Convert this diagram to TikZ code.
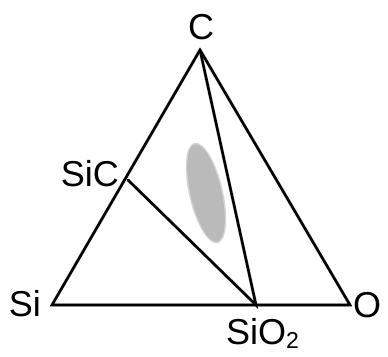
\documentclass[tikz,border=0pt]{standalone}
\usepackage{fontspec}
\setmainfont{Liberation Sans}
\begin{document}
\begin{tikzpicture}[x=1pt,y=-1pt,
  edge/.style={line width=2.6pt,line join=miter,line cap=round},
  shadowedge/.style={line width=3.4pt,draw=black!18,line join=round},
  lbl/.style={font=\fontsize{36}{36}\selectfont,inner sep=0pt}]
\useasboundingbox (0,0) rectangle (388,356);
\coordinate (C) at (200,50);
\coordinate (Si) at (52,305);
\coordinate (O) at (350,305);
\coordinate (SiC) at (128,180);
\coordinate (SiO2) at (256,305);
% soft shadow
\begin{scope}[shift={(1,2.5)}]
\draw[shadowedge] (Si) -- (C) -- (O) -- cycle;
\draw[shadowedge] (SiC) -- (SiO2) -- (C);
\end{scope}
% ellipse
\fill[black!16] (206,193) ellipse[x radius=17,y radius=51.5,rotate=13];
\fill[black!27] (206,193) ellipse[x radius=15.5,y radius=50,rotate=13];
% triangle and tie lines
\draw[edge] (Si) -- (C) -- (O) -- cycle;
\draw[edge] (SiC) -- (SiO2) -- (C);
% labels
\node[lbl] (lC) at (201,27) {C};
\node[lbl,anchor=east] (lSiC) at (119,174) {SiC};
\node[lbl,anchor=east] (lSi) at (41,304) {Si};
\node[lbl,anchor=west] (lO) at (353,305) {O};
\node[lbl,anchor=base west] (lSiO2) at (226,344) {SiO\raisebox{-4pt}{\fontsize{23}{23}\selectfont 2}};
\end{tikzpicture}
\end{document}
